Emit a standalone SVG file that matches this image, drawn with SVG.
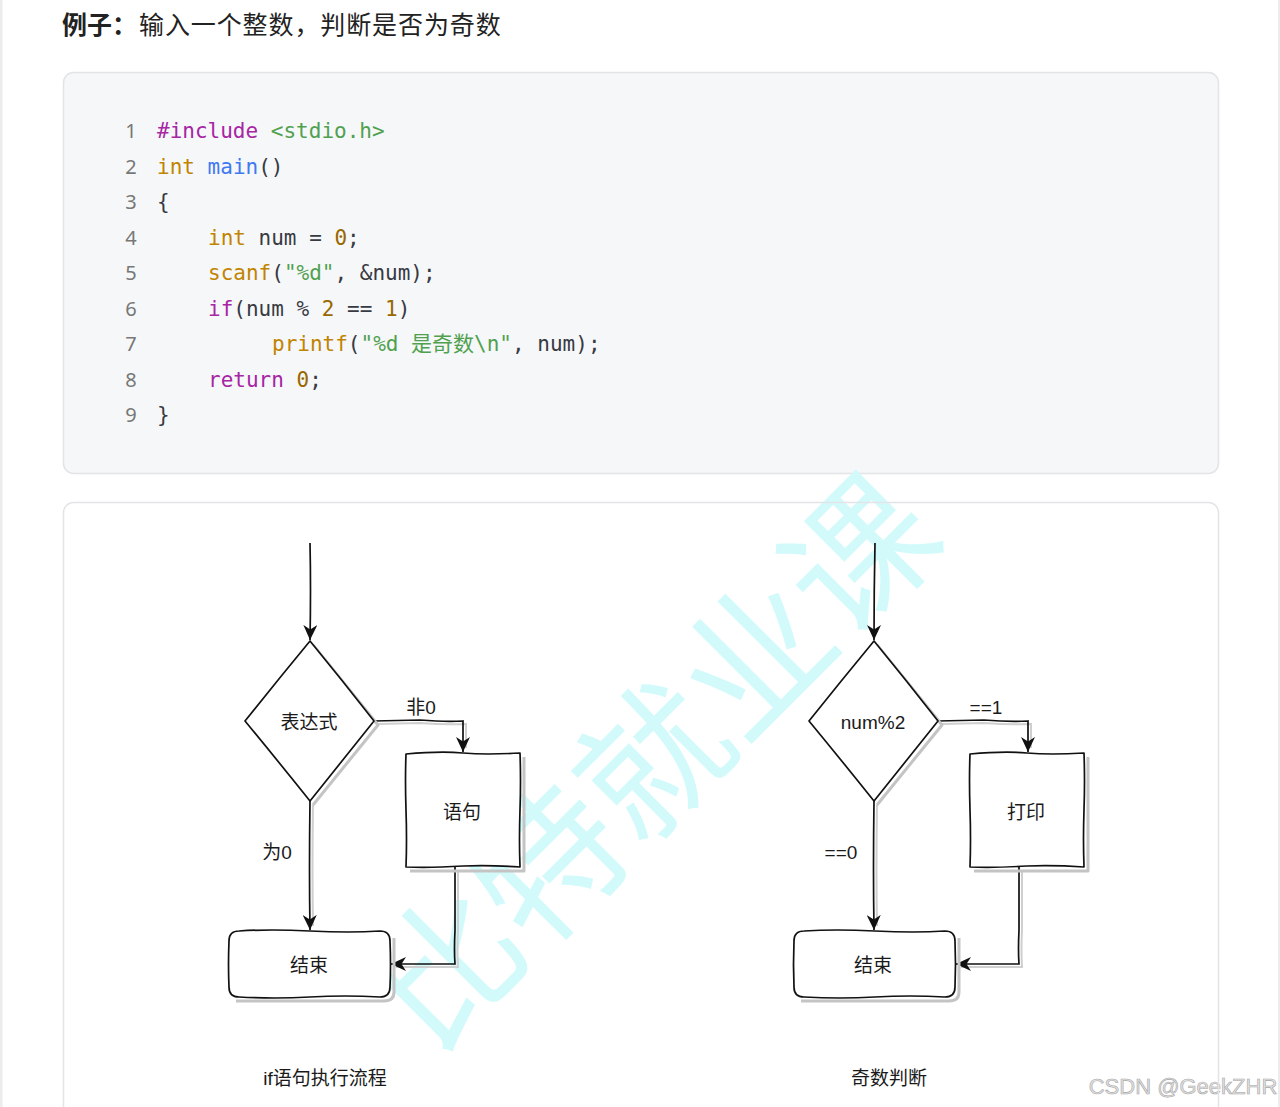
<svg xmlns="http://www.w3.org/2000/svg" width="1280" height="1107" viewBox="0 0 1280 1107">
<style>
.cjk{font-family:"Noto Sans CJK SC","Noto Sans",sans-serif}
.lbl{font-family:"Liberation Sans","Noto Sans CJK SC",sans-serif;font-size:19px;fill:#1a1a1a}
.code{font-family:"DejaVu Sans Mono","Noto Sans CJK SC",monospace;font-size:21px;fill:#383a42}
.ln{font-family:"Noto Sans",sans-serif;font-size:20px;fill:#777;text-anchor:middle}
.kw{fill:#a626a4}.ty{fill:#c18401}.fn{fill:#4078f2}.st{fill:#50a14f}.nu{fill:#986801}
.shape{fill:#fff;stroke:#111;stroke-width:1.7;stroke-linejoin:round}
.shadow{fill:none;stroke:#c4c4c4;stroke-width:3;stroke-linejoin:round}
.edge{fill:none;stroke:#111;stroke-width:1.7}
.eshadow{fill:none;stroke:#cfcfcf;stroke-width:2}
</style>
<defs>
<marker id="ah" markerUnits="userSpaceOnUse" markerWidth="16" markerHeight="14" refX="15" refY="7" orient="auto">
<path d="M0,0 L15,7 L0,14 L4.5,7 Z" fill="#111"/>
</marker>
</defs>
<rect x="0" y="0" width="1280" height="1107" fill="#fff"/>
<rect x="0" y="0" width="2.5" height="1107" fill="#ececec"/>
<rect x="1278" y="0" width="2" height="1107" fill="#ececec"/>

<g id="title">
<text x="62" y="34" class="cjk" font-size="25" font-weight="bold" fill="#222">例子：</text>
<text x="139" y="34" class="cjk" font-size="25" fill="#222" letter-spacing="0.9">输入一个整数，判断是否为奇数</text>
</g>

<g id="code-block">
<rect x="63.5" y="72.5" width="1155" height="401" rx="10" fill="#f6f7f9" stroke="#e2e4e8" stroke-width="1.5"/>
<text class="ln" x="131" y="138">1</text>
<text class="ln" x="131" y="173.5">2</text>
<text class="ln" x="131" y="209">3</text>
<text class="ln" x="131" y="244.5">4</text>
<text class="ln" x="131" y="280">5</text>
<text class="ln" x="131" y="315.5">6</text>
<text class="ln" x="131" y="351">7</text>
<text class="ln" x="131" y="386.5">8</text>
<text class="ln" x="131" y="422">9</text>
<text class="code" x="157" y="138" xml:space="preserve"><tspan class="kw">#include</tspan> <tspan class="st">&lt;stdio.h&gt;</tspan></text>
<text class="code" x="157" y="173.5" xml:space="preserve"><tspan class="ty">int</tspan> <tspan class="fn">main</tspan>()</text>
<text class="code" x="157" y="209">{</text>
<text class="code" x="208" y="244.5" xml:space="preserve"><tspan class="ty">int</tspan> num = <tspan class="nu">0</tspan>;</text>
<text class="code" x="208" y="280" xml:space="preserve"><tspan class="ty">scanf</tspan>(<tspan class="st">"%d"</tspan>, &amp;num);</text>
<text class="code" x="208" y="315.5" xml:space="preserve"><tspan class="kw">if</tspan>(num % <tspan class="nu">2</tspan> == <tspan class="nu">1</tspan>)</text>
<text class="code" x="272" y="351" xml:space="preserve"><tspan class="ty">printf</tspan>(<tspan class="st">"%d 是奇数\n"</tspan>, num);</text>
<text class="code" x="208" y="386.5" xml:space="preserve"><tspan class="kw">return</tspan> <tspan class="nu">0</tspan>;</text>
<text class="code" x="157" y="422">}</text>
</g>

<g id="panel">
<rect x="63.5" y="502.5" width="1155" height="620" rx="10" fill="#fff"/>
</g>

<g id="watermark">
<text x="646" y="754" transform="rotate(-45 646 754)" text-anchor="middle" dominant-baseline="central" class="cjk" font-size="146" fill="#d3fafb">比特就业课</text>
</g>

<g id="connectors">
<!-- left chart -->
<path class="edge" d="M310,543 Q311,590 310,640" marker-end="url(#ah)"/>
<path class="eshadow" d="M377,724 L420,723 Q445,725 466,724 L466,748"/>
<path class="edge" d="M374,721 L420,720 Q445,722 463,721 L463,752" marker-end="url(#ah)"/>
<path class="eshadow" d="M313,805 Q312,870 313,926"/>
<path class="edge" d="M310,801 Q309,870 310,930" marker-end="url(#ah)"/>
<path class="eshadow" d="M458,870 L458,930 Q457,950 458,967 L396,967"/>
<path class="edge" d="M455,867 L455,930 Q454,950 455,964 L391,964" marker-end="url(#ah)"/>
<!-- right chart -->
<path class="edge" d="M875,543 Q874,590 874,640" marker-end="url(#ah)"/>
<path class="eshadow" d="M941,724 L984,723 Q1009,725 1031,724 L1031,748"/>
<path class="edge" d="M938,721 L984,720 Q1009,722 1028,721 L1028,752" marker-end="url(#ah)"/>
<path class="eshadow" d="M877,805 Q876,870 877,926"/>
<path class="edge" d="M874,801 Q873,870 874,930" marker-end="url(#ah)"/>
<path class="eshadow" d="M1022,870 L1022,930 Q1021,950 1022,967 L961,967"/>
<path class="edge" d="M1019,867 L1019,930 Q1018,950 1019,964 L956,964" marker-end="url(#ah)"/>
</g>

<g id="node-expr">
<path class="shadow" d="M313,645 L378,725 L313,805"/>
<path class="shape" d="M310,641 Q342,680 374,721 Q341,762 310,801 Q278,761 245,721 Q277,681 310,641 Z"/>
<text x="309" y="729" class="lbl" text-anchor="middle">表达式</text>
</g>
<g id="node-stmt">
<path class="shadow" d="M524,757 L524,871 L410,871"/>
<path class="shape" d="M406,754 Q440,751 463,753 T520,753 Q521,780 520,810 Q519,840 520,867 Q490,865 463,866 Q430,868 406,867 Q407,840 406,810 Q405,780 406,754 Z"/>
<text x="462" y="819" class="lbl" text-anchor="middle">语句</text>
</g>
<g id="node-end-left">
<path class="shadow" d="M394,938 L394,992 Q394,1001 384,1001 L236,1001"/>
<path class="shape" d="M239,931 Q270,929 310,931 T380,931 Q390,931 390,941 Q391,965 390,987 Q390,997 380,997 Q345,995 310,997 T239,997 Q229,997 229,987 Q228,965 229,941 Q229,931 239,931 Z"/>
<text x="309" y="972" class="lbl" text-anchor="middle">结束</text>
</g>
<g id="node-num">
<path class="shadow" d="M877,645 L942,725 L877,805"/>
<path class="shape" d="M874,641 Q906,680 938,721 Q905,762 874,801 Q842,761 809,721 Q841,681 874,641 Z"/>
<text x="873" y="729" class="lbl" text-anchor="middle" font-size="20.5">num%2</text>
</g>
<g id="node-print">
<path class="shadow" d="M1088,757 L1088,871 L974,871"/>
<path class="shape" d="M970,754 Q1004,751 1027,753 T1084,753 Q1085,780 1084,810 Q1083,840 1084,867 Q1054,865 1027,866 Q994,868 970,867 Q971,840 970,810 Q969,780 970,754 Z"/>
<text x="1026" y="819" class="lbl" text-anchor="middle">打印</text>
</g>
<g id="node-end-right">
<path class="shadow" d="M959,938 L959,992 Q959,1001 949,1001 L801,1001"/>
<path class="shape" d="M804,931 Q835,929 875,931 T945,931 Q955,931 955,941 Q956,965 955,987 Q955,997 945,997 Q910,995 875,997 T804,997 Q794,997 794,987 Q793,965 794,941 Q794,931 804,931 Z"/>
<text x="873" y="972" class="lbl" text-anchor="middle">结束</text>
</g>

<g id="edge-labels">
<text x="421" y="714" class="lbl" text-anchor="middle">非0</text>
<text x="277" y="859" class="lbl" text-anchor="middle">为0</text>
<text x="986" y="714" class="lbl" text-anchor="middle">==1</text>
<text x="841" y="859" class="lbl" text-anchor="middle">==0</text>
</g>

<g id="captions">
<text x="325" y="1085" class="lbl" text-anchor="middle">if语句执行流程</text>
<text x="889" y="1085" class="lbl" text-anchor="middle">奇数判断</text>
</g>

<g id="csdn">
<text x="1183" y="1094" text-anchor="middle" font-family="Liberation Sans, sans-serif" font-size="22" fill="#e2e2e2" stroke="#a8a8a8" stroke-width="0.6">CSDN @GeekZHR</text>
</g>
<rect x="63.5" y="502.5" width="1155" height="620" rx="10" fill="none" stroke="#e2e4e8" stroke-width="1.5"/>
</svg>
